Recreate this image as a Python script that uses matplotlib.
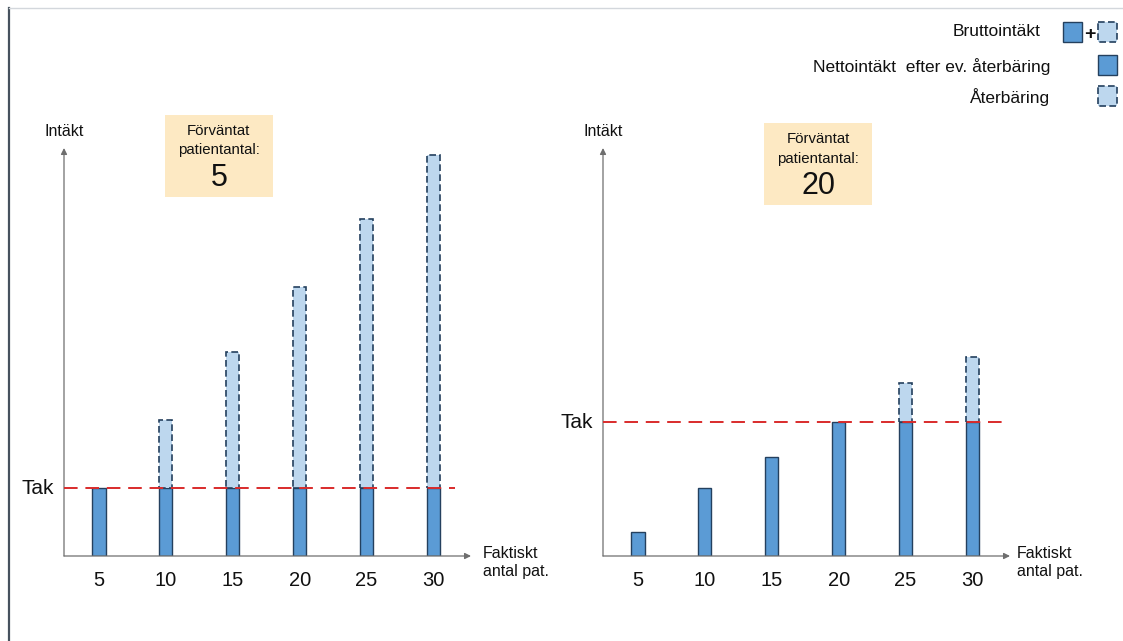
import matplotlib
matplotlib.use('Agg')
import matplotlib.pyplot as plt
from matplotlib.patches import Rectangle

plt.rcParams['font.family'] = ['Liberation Sans', 'DejaVu Sans']

# actual number of patients (x axis)
patients = [5, 10, 15, 20, 25, 30]

# scenario: expected 5 patients
net_5 = [10, 10, 10, 10, 10, 10]
gross_5 = [10, 20, 30, 39.5, 49.5, 59]
tak_5 = 10

# scenario: expected 20 patients
net_20 = [3.5, 10, 14.5, 19.7, 19.7, 19.7]
gross_20 = [3.5, 10, 14.5, 19.7, 25.5, 29.3]
tak_20 = 19.7

legend_labels = ['Bruttointäkt', 'Nettointäkt  efter ev. återbäring', 'Återbäring']

NET = '#5b9bd5'
REFUND = '#bdd7ee'
EDGE = '#24405e'
RED = '#d92b2b'
AXIS = '#6e6e6e'
BOX = '#fde9c3'
INK = '#111111'


def draw_panel(ax, net, gross, tak, expected, tak_end, box_x, box_top, lab_dx):
    ax.set_xlim(2.4, 32.8)
    ax.set_ylim(0, 60)
    for s in ax.spines.values():
        s.set_visible(False)

    ax.bar(patients, net, width=1.0, color=NET, edgecolor=EDGE, linewidth=1.0, zorder=3)
    refund = [g - n for g, n in zip(gross, net)]
    xs = [p for p, r in zip(patients, refund) if r > 0]
    rs = [r for r in refund if r > 0]
    bs = [n for n, r in zip(net, refund) if r > 0]
    ax.bar(xs, rs, bottom=bs, width=1.0, color=REFUND, edgecolor=EDGE,
           linewidth=1.2, linestyle=(0, (4, 2)), zorder=3)

    ax.axhline(tak, 0, tak_end, color=RED, lw=1.4, dashes=(7, 4), zorder=4)

    ax.set_xticks(patients)
    ax.set_xticklabels([str(p) for p in patients])
    ax.set_yticks([])
    ax.tick_params(axis='x', length=0, pad=11, labelsize=14.5, labelcolor=INK)

    # axes drawn as arrows
    arrow = dict(arrowstyle='-|>', color=AXIS, lw=0.9, mutation_scale=9,
                 shrinkA=0, shrinkB=0)
    ax.annotate('', xy=(1, 0), xytext=(0, 0), xycoords='axes fraction', arrowprops=arrow)
    ax.annotate('', xy=(0, 1), xytext=(0, 0), xycoords='axes fraction', arrowprops=arrow)

    ax.text(-0.025, tak, 'Tak', transform=ax.get_yaxis_transform(),
            ha='right', va='center', fontsize=15, color=INK)
    ax.text(0, 1.04, 'Intäkt', transform=ax.transAxes, ha='center', va='center',
            fontsize=11.5, color=INK)
    ax.text(1 + lab_dx, -0.015, 'Faktiskt\nantal pat.', transform=ax.transAxes,
            ha='left', va='center', fontsize=11.5, linespacing=1.25, color=INK)

    # expected patient count box
    bw, bh = 0.265, 0.2
    ax.add_patch(Rectangle((box_x, box_top - bh), bw, bh, transform=ax.transAxes,
                           facecolor=BOX, edgecolor='none', clip_on=False))
    cx = box_x + bw / 2
    ax.text(cx, box_top - 0.039, 'Förväntat', transform=ax.transAxes,
            ha='center', va='center', fontsize=10.8, color=INK)
    ax.text(cx, box_top - 0.087, 'patientantal:', transform=ax.transAxes,
            ha='center', va='center', fontsize=10.8, color=INK)
    ax.text(cx, box_top - 0.155, str(expected), transform=ax.transAxes,
            ha='center', va='center', fontsize=22, color=INK)


fig = plt.figure(figsize=(11.23, 6.41), dpi=100)

ax1 = fig.add_axes([64 / 1123, 85 / 641, 407 / 1123, 408 / 641])
draw_panel(ax1, net_5, gross_5, tak_5, 5, 0.96, 0.248, 1.081, 0.03)

ax2 = fig.add_axes([603 / 1123, 85 / 641, 407 / 1123, 408 / 641])
draw_panel(ax2, net_20, gross_20, tak_20, 20, 0.983, 0.396, 1.061, 0.017)

# overlay in pixel coordinates for frame and legend
ov = fig.add_axes([0, 0, 1, 1])
ov.set_xlim(0, 1123)
ov.set_ylim(641, 0)
ov.axis('off')

ov.plot([9, 9], [8, 641], color='#46525e', lw=1.6)
ov.plot([9, 1123], [8, 8], color='#d3d7dc', lw=1.0)

for label, x, y in zip(legend_labels, [1041, 1050, 1050], [32, 67, 97]):
    ov.text(x, y, label, ha='right', va='center', fontsize=12.5, color=INK)


def swatch(x, y, dashed):
    if dashed:
        ov.add_patch(Rectangle((x, y), 19, 20, facecolor=REFUND, edgecolor=EDGE,
                               lw=1.2, linestyle=(0, (4, 2))))
    else:
        ov.add_patch(Rectangle((x, y), 19, 20, facecolor=NET, edgecolor=EDGE, lw=1.0))


swatch(1063, 22, False)
ov.text(1090, 32, '+', ha='center', va='center_baseline', fontsize=14,
        fontweight='bold', color=INK)
swatch(1098, 22, True)
swatch(1098, 55, False)
swatch(1098, 86, True)

fig.savefig('out.png', dpi=100)
